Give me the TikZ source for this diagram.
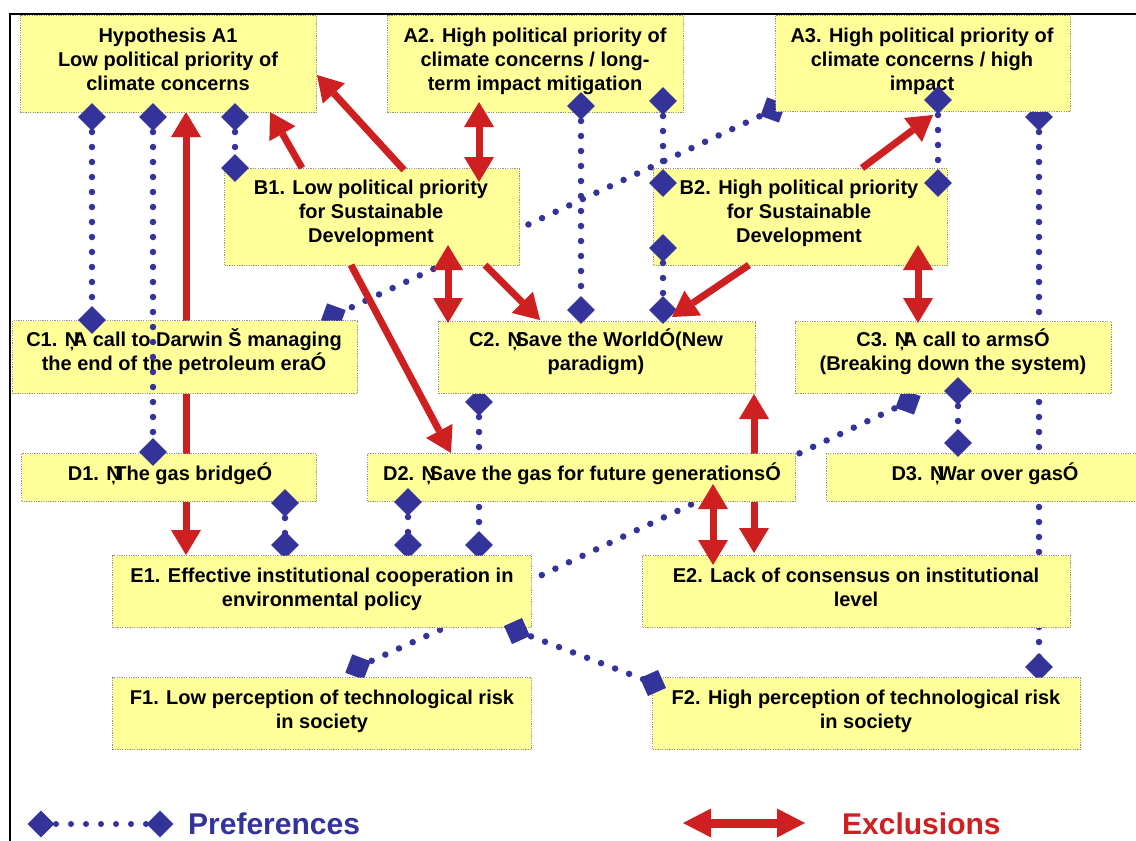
\documentclass[tikz,border=0pt]{standalone}
\usepackage{fontspec}
\setmainfont{Liberation Sans}
\usetikzlibrary{arrows.meta,shapes.geometric}
\definecolor{boxyellow}{RGB}{255,255,153}
\definecolor{prefblue}{RGB}{51,51,153}
\definecolor{exred}{RGB}{206,32,32}
\newcommand{\qo}{\makebox[0.4em][l]{Ņ}}
\newcommand{\fs}{\rule{0pt}{20pt}}
\tikzset{
  tri/.tip={Triangle[length=25pt,width=30pt,line width=0pt]},
  bigtri/.tip={Triangle[length=28pt,width=29pt,line width=0pt]},
}
\begin{document}
\begin{tikzpicture}[x=1pt,y=-1pt,
  box/.style={draw=gray!85, dash pattern=on 1.2pt off 1.2pt, line width=1.2pt, fill=boxyellow, inner sep=0pt, anchor=north west},
  txt/.style={anchor=north, inner sep=0pt, align=center, font=\fontsize{20}{24}\selectfont\bfseries},
  dia/.style={shape=diamond, fill=prefblue, inner sep=0pt, minimum width=28pt, minimum height=28pt},
  pref/.style={draw=prefblue, line width=6.5pt, line cap=round, dash pattern=on 0pt off 15pt},
  excl/.style={draw=exred, line width=7pt, -tri},
  exclb/.style={draw=exred, line width=7pt, tri-tri},
]
\useasboundingbox (0,0) rectangle (1136,841);
\fill[white] (0,0) rectangle (1136,841);
\draw[line width=2pt] (10,841) -- (10,14) -- (1136,14);

% ---------- coordinates ----------
\coordinate (p1a) at (92,117);   \coordinate (p1b) at (92,320);
\coordinate (p2a) at (153,117);  \coordinate (p2b) at (153,452);
\coordinate (p3a) at (235,117);  \coordinate (p3b) at (235,168);
\coordinate (p4a) at (581,106);  \coordinate (p4b) at (581,310);
\coordinate (p5a) at (663,101);  \coordinate (p5b) at (663,183);
\coordinate (p6a) at (663,248);  \coordinate (p6b) at (663,310);
\coordinate (p7a) at (773,110);  \coordinate (p7b) at (333,316);
\coordinate (p8a) at (938,100);  \coordinate (p8b) at (938,183);
\coordinate (p9a) at (1039,117); \coordinate (p9b) at (1039,667);
\coordinate (p10a) at (479,402); \coordinate (p10b) at (479,545);
\coordinate (p11a) at (958,391); \coordinate (p11b) at (958,443);
\coordinate (p12a) at (908,402); \coordinate (p12b) at (525,583);
\coordinate (p13a) at (285,503); \coordinate (p13b) at (285,545);
\coordinate (p14a) at (408,502); \coordinate (p14b) at (408,545);
\coordinate (p15a) at (358,667); \coordinate (p15b) at (455,623);
\coordinate (p16a) at (517,631); \coordinate (p16b) at (653,683);

\coordinate (r1a) at (186,112);  \coordinate (r1b) at (186,555);
\coordinate (r2a) at (302,168);  \coordinate (r2b) at (270,112);
\coordinate (r3a) at (404,170);  \coordinate (r3b) at (317,75);
\coordinate (r4a) at (479,102);  \coordinate (r4b) at (479,182);
\coordinate (r5a) at (448,245);  \coordinate (r5b) at (448,323);
\coordinate (r6a) at (485,265);  \coordinate (r6b) at (540,320);
\coordinate (r7a) at (351,265);  \coordinate (r7b) at (451,453);
\coordinate (r8a) at (749,265);  \coordinate (r8b) at (672,317);
\coordinate (r9a) at (862,168);  \coordinate (r9b) at (933,115);
\coordinate (r10a) at (918,245); \coordinate (r10b) at (918,323);
\coordinate (r11a) at (754,394); \coordinate (r11b) at (754,553);
\coordinate (r12a) at (713,484); \coordinate (r12b) at (713,565);

% ---------- connectors under the boxes ----------
\draw[exclb] (r1a) -- (r1b);
\draw[exclb] (r11a) -- (r11b);
\draw[pref] (p7a) -- (p7b);
\node[dia,rotate=25] (d7a) at (p7a) {};
\node[dia,rotate=25] (d7b) at (p7b) {};
\draw[pref] (p9a) -- (p9b);
\node[dia] (d9a) at (p9a) {};
\node[dia] (d9b) at (p9b) {};
\draw[pref] (p10a) -- (p10b);
\node[dia] (d10a) at (p10a) {};
\node[dia] (d10b) at (p10b) {};
\draw[pref] (p12a) -- (p12b);
\node[dia,rotate=25] (d12a) at (p12a) {};
\draw[pref] (p15a) -- (p15b);
\node[dia,rotate=24] (d15a) at (p15a) {};

% ---------- boxes ----------
\node[box, minimum width=296pt, minimum height=97pt] (A1) at (20,15) {};
\node[box, minimum width=296pt, minimum height=97pt] (A2) at (387,15) {};
\node[box, minimum width=295pt, minimum height=96pt] (A3) at (775,15) {};
\node[box, minimum width=295pt, minimum height=97pt] (B1) at (224,168) {};
\node[box, minimum width=294pt, minimum height=97pt] (B2) at (653,168) {};
\node[box, minimum width=345pt, minimum height=73pt] (C1) at (12,320) {};
\node[box, minimum width=317pt, minimum height=72pt] (C2) at (438,321) {};
\node[box, minimum width=316pt, minimum height=72pt] (C3) at (795,321) {};
\node[box, minimum width=295pt, minimum height=48pt] (D1) at (21,453) {};
\node[box, minimum width=428pt, minimum height=48pt] (D2) at (367,453) {};
\node[box, minimum width=318pt, minimum height=48pt] (D3) at (826,453) {};
\node[box, minimum width=428pt, minimum height=72pt] (E2) at (642,555) {};
\node[box, minimum width=419pt, minimum height=72pt] (F1) at (112,677) {};
\node[box, minimum width=428pt, minimum height=72pt] (F2) at (652,677) {};

\node[txt] (A1t) at (168,22) {\fs Hypothesis A1\\Low political priority of\\climate concerns};
\node[txt] (A2t) at (535,22) {\fs A2. High political priority of\\climate concerns / long-\\term impact mitigation};
\node[txt] (A3t) at (922,22) {\fs A3. High political priority of\\climate concerns / high\\impact};
\node[txt] (B1t) at (371,174) {\fs B1. Low political priority\\for Sustainable\\Development};
\node[txt] (B2t) at (799,174) {\fs B2. High political priority\\for Sustainable\\Development};
\node[txt] (C1t) at (184,326) {\fs C1. \qo A call to Darwin Š managing\\the end of the petroleum eraÓ};
\node[txt] (C2t) at (596,326) {\fs C2. \qo Save the WorldÓ(New\\paradigm)};
\node[txt] (C3t) at (953,326) {\fs C3. \qo A call to armsÓ\\(Breaking down the system)};
\node[txt] (D1t) at (170,460) {\fs D1. \qo The gas bridgeÓ};
\node[txt] (D2t) at (582,460) {\fs D2. \qo Save the gas for future generationsÓ};
\node[txt] (D3t) at (985,460) {\fs D3. \qo War over gasÓ};
\node[txt] (E2t) at (856,562) {\fs E2. Lack of consensus on institutional\\level};
\node[txt] (F1t) at (322,684) {\fs F1. Low perception of technological risk\\in society};
\node[txt] (F2t) at (866,684) {\fs F2. High perception of technological risk\\in society};

% ---------- middle layer ----------
\draw[pref] (p13a) -- (p13b);
\node[dia] (d13a) at (p13a) {};
\node[dia] (d13b) at (p13b) {};
\draw[pref] (p14a) -- (p14b);
\node[dia] (d14a) at (p14a) {};
\node[dia] (d14b) at (p14b) {};

\node[box, minimum width=419pt, minimum height=72pt] (E1) at (112,555) {};
\node[txt] (E1t) at (322,562) {\fs E1. Effective institutional cooperation in\\environmental policy};

% ---------- connectors over the boxes ----------
\foreach \i in {1,2,3,4,5,6,8,11}{
  \draw[pref] (p\i a) -- (p\i b);
  \node[dia] (d\i a) at (p\i a) {};
  \node[dia] (d\i b) at (p\i b) {};
}
\draw[pref] (p16a) -- (p16b);
\node[dia,rotate=-21] (d16a) at (p16a) {};
\node[dia,rotate=-21] (d16b) at (p16b) {};

\draw[excl] (r2a) -- (r2b);
\draw[excl] (r3a) -- (r3b);
\draw[exclb] (r4a) -- (r4b);
\draw[exclb] (r5a) -- (r5b);
\draw[excl] (r6a) -- (r6b);
\draw[excl] (r7a) -- (r7b);
\draw[excl] (r8a) -- (r8b);
\draw[excl] (r9a) -- (r9b);
\draw[exclb] (r10a) -- (r10b);
\draw[exclb] (r12a) -- (r12b);

% ---------- legend ----------
\coordinate (la) at (41,824); \coordinate (lb) at (160,824);
\draw[pref, line width=6pt] (la) -- (lb);
\node[dia, minimum width=27pt, minimum height=27pt] (lda) at (la) {};
\node[dia, minimum width=27pt, minimum height=27pt] (ldb) at (lb) {};
\node[anchor=base west, inner sep=0pt, text=prefblue, font=\fontsize{30}{36}\selectfont\bfseries] (legP) at (188,834) {Preferences};
\coordinate (lc) at (683,823); \coordinate (ld) at (805,823);
\draw[draw=exred, line width=9pt, bigtri-bigtri] (lc) -- (ld);
\node[anchor=base west, inner sep=0pt, text=exred, font=\fontsize{30}{36}\selectfont\bfseries] (legE) at (842,834) {Exclusions};
\end{tikzpicture}
\end{document}
